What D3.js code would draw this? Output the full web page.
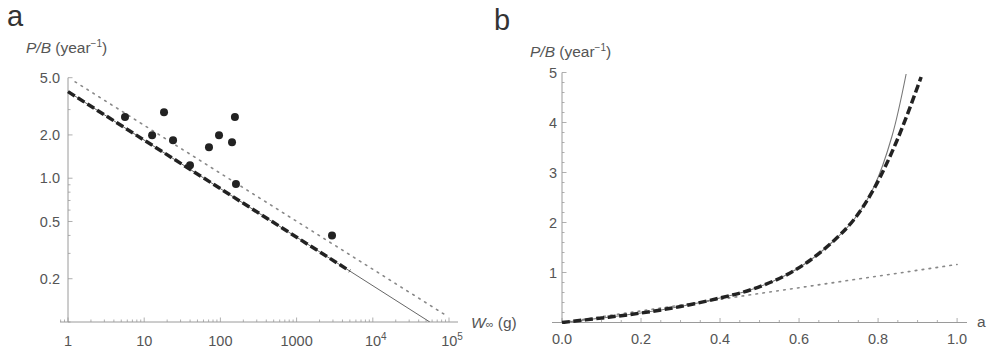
<!DOCTYPE html>
<html>
<head>
<meta charset="utf-8">
<script src="https://cdn.jsdelivr.net/npm/d3@7"></script>
<style>
  html, body { margin: 0; padding: 0; background: #fff; }
  svg { display: block; font-family: "Liberation Sans", Arial, sans-serif; }
</style>
</head>
<body>
<svg id="chart" width="988" height="350"></svg>
<script>
// ---------- Panel a data ----------
const obsW  = [5.6, 12.7, 18.2, 23.9, 39.9, 70.8, 95.9, 142, 155, 160, 2915];
const obsPB = [2.66, 1.99, 2.88, 1.84, 1.23, 1.64, 1.99, 1.78, 2.66, 0.91, 0.40];
const solidAW  = [1, 56000];
const solidAPB = [4.0, 0.1];
const dashAW   = [1, 5000];
const dashAPB  = [4.0, 0.226];
const dotAW    = [1.24, 97000];
const dotAPB   = [4.68, 0.109];
const aXTicks  = [1, 10, 100, 1000, 10000, 100000];
const aXLabels = ["1", "10", "100", "1000", "10^4", "10^5"];
const aYTicks  = [0.2, 0.5, 1.0, 2.0, 5.0];
const aYLabels = ["0.2", "0.5", "1.0", "2.0", "5.0"];

// ---------- Panel b data ----------
const dashBA  = [0, 0.1, 0.2, 0.3, 0.4, 0.48, 0.56, 0.62, 0.69, 0.74, 0.79, 0.85, 0.909];
const dashBPB = [0, 0.09, 0.19, 0.32, 0.49, 0.66, 0.92, 1.20, 1.65, 2.07, 2.68, 3.68, 4.91];
const solidBA  = [0, 0.1, 0.2, 0.3, 0.4, 0.48, 0.56, 0.62, 0.69, 0.74, 0.79, 0.835, 0.871];
const solidBPB = [0, 0.09, 0.19, 0.32, 0.49, 0.66, 0.92, 1.20, 1.65, 2.07, 2.72, 3.72, 4.97];
const dotBA  = [0, 1.0];
const dotBPB = [0, 1.16];
const bXTicks = [0, 0.2, 0.4, 0.6, 0.8, 1.0];
const bXLabels = ["0.0", "0.2", "0.4", "0.6", "0.8", "1.0"];
const bYTicks = [1, 2, 3, 4, 5];

const svg = d3.select("#chart");
const axisCol = "#9a9a9a";
const labCol = "#555";
const fs = 14.5;

// ================= Panel a =================
const xa = d3.scaleLog().domain([Math.pow(10, -0.105), Math.pow(10, 5.118)]).range([60, 458]);
const ya = d3.scaleLog().domain([0.1, 5.0]).range([322, 77.7]);
const ga = svg.append("g");

ga.append("defs").append("clipPath").attr("id", "clipA")
  .append("rect").attr("x", 60).attr("y", 70).attr("width", 400).attr("height", 252);

ga.append("line").attr("x1", 60).attr("x2", 458).attr("y1", ya(0.1)).attr("y2", ya(0.1))
  .attr("stroke", axisCol).attr("stroke-width", 1);
ga.append("line").attr("x1", xa(1)).attr("x2", xa(1)).attr("y1", ya(0.1)).attr("y2", ya(5.0))
  .attr("stroke", axisCol).attr("stroke-width", 1);

const aXMinor = [];
for (let k = -1; k <= 5; k++) for (let m = 1; m <= 9; m++) {
  const v = m * Math.pow(10, k);
  if (v >= xa.domain()[0] && v <= xa.domain()[1]) aXMinor.push({v, major: m === 1});
}
ga.selectAll(".axt").data(aXMinor).join("line")
  .attr("x1", d => xa(d.v)).attr("x2", d => xa(d.v))
  .attr("y1", ya(0.1)).attr("y2", d => ya(0.1) - (d.major ? 4.5 : 2.5))
  .attr("stroke", axisCol).attr("stroke-width", 0.8);
const aYMinor = [];
for (let k = -1; k <= 0; k++) for (let m = 1; m <= 9; m++) {
  const v = m * Math.pow(10, k);
  if (v >= 0.1 && v <= 5.0001) aYMinor.push({v, major: aYTicks.some(t => Math.abs(t - v) < 1e-9)});
}
ga.selectAll(".ayt").data(aYMinor).join("line")
  .attr("x1", xa(1)).attr("x2", d => xa(1) + (d.major ? 4.5 : 2.5))
  .attr("y1", d => ya(d.v)).attr("y2", d => ya(d.v))
  .attr("stroke", axisCol).attr("stroke-width", 0.8);

ga.selectAll(".ayl").data(aYTicks).join("text")
  .attr("x", 60).attr("y", d => ya(d)).attr("dy", "0.35em")
  .attr("text-anchor", "end").attr("font-size", fs).attr("fill", labCol)
  .text((d, i) => aYLabels[i]);
aXTicks.forEach((t, i) => {
  const lab = aXLabels[i];
  const tx = ga.append("text").attr("x", xa(t)).attr("y", 346)
    .attr("text-anchor", "middle").attr("font-size", fs).attr("fill", labCol);
  if (lab.includes("^")) {
    const [b, e] = lab.split("^");
    tx.attr("dx", 3);
    tx.append("tspan").text(b);
    tx.append("tspan").attr("dy", -6).attr("font-size", 10).text(e);
  } else tx.text(lab);
});

const ta = ga.append("text").attr("x", 26).attr("y", 53).attr("font-size", 15.5).attr("fill", labCol);
ta.append("tspan").attr("font-style", "italic").text("P/B");
ta.append("tspan").text(" (year");
ta.append("tspan").attr("dy", -6).attr("font-size", 10).text("−1");
ta.append("tspan").attr("dy", 6).text(")");
const wa = ga.append("text").attr("x", 471).attr("y", 328).attr("font-size", 15.5).attr("fill", labCol);
wa.append("tspan").attr("font-style", "italic").text("W");
wa.append("tspan").attr("font-size", 11).text("∞");
wa.append("tspan").text(" (g)");
ga.append("text").attr("x", 7).attr("y", 26).attr("font-size", 29).attr("fill", "#333").text("a");

const lineA = d3.line().x(d => xa(d[0])).y(d => ya(d[1]));
const pc = ga.append("g").attr("clip-path", "url(#clipA)");
pc.append("path").datum(dotAW.map((w, i) => [w, dotAPB[i]])).attr("d", lineA)
  .attr("fill", "none").attr("stroke", "#888").attr("stroke-width", 1.6)
  .attr("stroke-dasharray", "1.6,5.4").attr("stroke-linecap", "round");
pc.append("path").datum(solidAW.map((w, i) => [w, solidAPB[i]])).attr("d", lineA)
  .attr("fill", "none").attr("stroke", "#666").attr("stroke-width", 1);
pc.append("path").datum(dashAW.map((w, i) => [w, dashAPB[i]])).attr("d", lineA)
  .attr("fill", "none").attr("stroke", "#222").attr("stroke-width", 3.5)
  .attr("stroke-dasharray", "8,3.5");
ga.selectAll(".pt").data(obsW.map((w, i) => [w, obsPB[i]])).join("circle")
  .attr("cx", d => xa(d[0])).attr("cy", d => ya(d[1])).attr("r", 4)
  .attr("fill", "#222");

// ================= Panel b =================
const xb = d3.scaleLinear().domain([0, 1.02]).range([562, 965]);
const yb = d3.scaleLinear().domain([0, 5]).range([322.5, 72.5]);
const gb = svg.append("g");
gb.append("defs").append("clipPath").attr("id", "clipB")
  .append("rect").attr("x", 552).attr("y", 70).attr("width", 420).attr("height", 254);

gb.append("line").attr("x1", 552).attr("x2", 967).attr("y1", yb(0)).attr("y2", yb(0))
  .attr("stroke", axisCol).attr("stroke-width", 1);
gb.append("line").attr("x1", xb(0)).attr("x2", xb(0)).attr("y1", yb(0)).attr("y2", yb(5))
  .attr("stroke", axisCol).attr("stroke-width", 1);

const bxm = d3.range(0, 21).map(i => ({v: i * 0.05, major: i % 4 === 0}));
gb.selectAll(".bxt").data(bxm).join("line")
  .attr("x1", d => xb(d.v)).attr("x2", d => xb(d.v))
  .attr("y1", yb(0)).attr("y2", d => yb(0) - (d.major ? 4.5 : 2.5))
  .attr("stroke", axisCol).attr("stroke-width", 0.8);
const bym = d3.range(1, 26).map(i => ({v: i * 0.2, major: i % 5 === 0}));
gb.selectAll(".byt").data(bym).join("line")
  .attr("x1", xb(0)).attr("x2", d => xb(0) + (d.major ? 4.5 : 2.5))
  .attr("y1", d => yb(d.v)).attr("y2", d => yb(d.v))
  .attr("stroke", axisCol).attr("stroke-width", 0.8);

gb.selectAll(".bxl").data(bXTicks).join("text")
  .attr("x", d => xb(d)).attr("y", 344).attr("text-anchor", "middle")
  .attr("font-size", fs).attr("fill", labCol).text((d, i) => bXLabels[i]);
gb.selectAll(".byl").data(bYTicks).join("text")
  .attr("x", 557).attr("y", d => yb(d)).attr("dy", "0.35em").attr("text-anchor", "end")
  .attr("font-size", fs).attr("fill", labCol).text(d => d);

const tb = gb.append("text").attr("x", 530).attr("y", 57).attr("font-size", 15.5).attr("fill", labCol);
tb.append("tspan").attr("font-style", "italic").text("P/B");
tb.append("tspan").text(" (year");
tb.append("tspan").attr("dy", -6).attr("font-size", 10).text("−1");
tb.append("tspan").attr("dy", 6).text(")");
gb.append("text").attr("x", 977).attr("y", 327).attr("font-size", 15.5).attr("fill", labCol).text("a");
gb.append("text").attr("x", 494).attr("y", 30).attr("font-size", 29).attr("fill", "#333").text("b");

const lineB = d3.line().x(d => xb(d[0])).y(d => yb(d[1])).curve(d3.curveCatmullRom.alpha(0.5));
const bc = gb.append("g").attr("clip-path", "url(#clipB)");
bc.append("path").datum(dotBA.map((a, i) => [a, dotBPB[i]])).attr("d", lineB)
  .attr("fill", "none").attr("stroke", "#888").attr("stroke-width", 1.6)
  .attr("stroke-dasharray", "1.6,5.4").attr("stroke-linecap", "round");
bc.append("path").datum(solidBA.map((a, i) => [a, solidBPB[i]])).attr("d", lineB)
  .attr("fill", "none").attr("stroke", "#777").attr("stroke-width", 1.1);
bc.append("path").datum(dashBA.map((a, i) => [a, dashBPB[i]])).attr("d", lineB)
  .attr("fill", "none").attr("stroke", "#222").attr("stroke-width", 3.5)
  .attr("stroke-dasharray", "8,3.5");
</script>
</body>
</html>
